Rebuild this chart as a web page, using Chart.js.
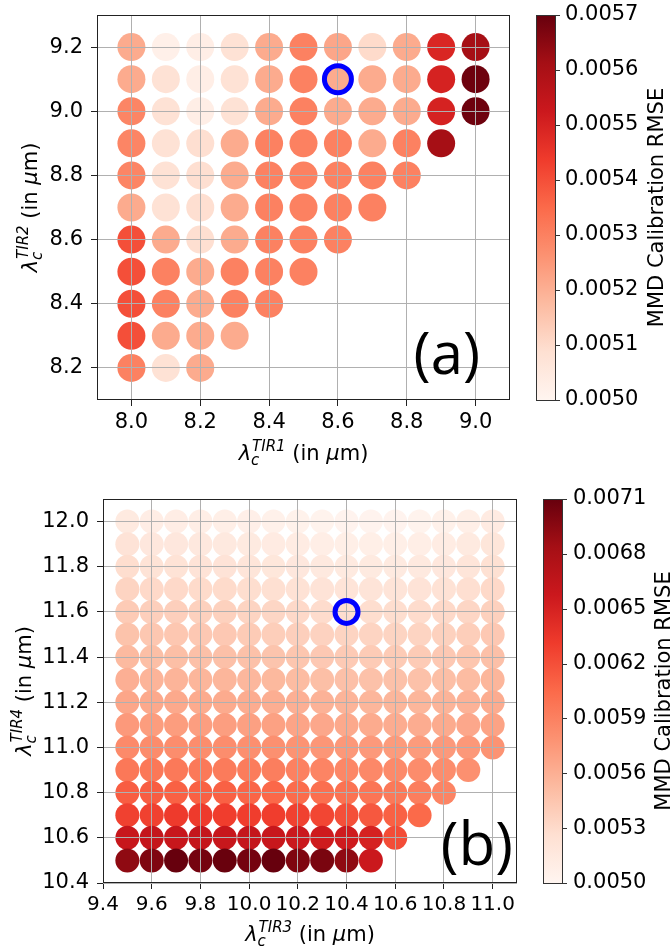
<!DOCTYPE html>
<html><head><meta charset="utf-8">
<script src="https://cdn.jsdelivr.net/npm/chart.js@4.4.0/dist/chart.umd.min.js"></script>
<style>
html,body{margin:0;padding:0;background:#fff;}
#wrap{position:relative;width:672px;height:952px;}
canvas{position:absolute;left:0;}
</style></head><body>
<div id="wrap">
<canvas id="chartA" width="672" height="476" style="top:0"></canvas>
<canvas id="chartB" width="672" height="476" style="top:476px"></canvas>
</div>
<script>
// ---------------- DATA: panel (a) ----------------
const aX = [8.0, 8.1, 8.2, 8.3, 8.4, 8.5, 8.6, 8.7, 8.8, 8.9, 9.0];
const aY = [9.2, 9.1, 9.0, 8.9, 8.8, 8.7, 8.6, 8.5, 8.4, 8.3, 8.2];
const aRmse = [
  [0.00521, 0.00502, 0.00503, 0.00508, 0.00521, 0.00530, 0.00522, 0.00510, 0.00521, 0.00549, 0.00561],
  [0.00521, 0.00508, 0.00503, 0.00508, 0.00521, 0.00530, 0.00521, 0.00521, 0.00521, 0.00550, 0.00569],
  [0.00529, 0.00508, 0.00503, 0.00508, 0.00521, 0.00530, 0.00521, 0.00521, 0.00521, 0.00550, 0.00569],
  [0.00529, 0.00508, 0.00509, 0.00521, 0.00530, 0.00530, 0.00530, 0.00521, 0.00530, 0.00561, null],
  [0.00529, 0.00508, 0.00509, 0.00521, 0.00530, 0.00530, 0.00530, 0.00530, 0.00530, null, null],
  [0.00521, 0.00508, 0.00509, 0.00521, 0.00530, 0.00530, 0.00530, 0.00530, null, null, null],
  [0.00540, 0.00521, 0.00509, 0.00521, 0.00530, 0.00530, 0.00530, null, null, null, null],
  [0.00540, 0.00530, 0.00521, 0.00530, 0.00530, 0.00530, null, null, null, null, null],
  [0.00540, 0.00530, 0.00521, 0.00530, 0.00530, null, null, null, null, null, null],
  [0.00540, 0.00521, 0.00521, 0.00521, null, null, null, null, null, null, null],
  [0.00530, 0.00508, 0.00521, null, null, null, null, null, null, null, null]
];
const aBest = [8.6, 9.1];
const aXTicks = [8.0, 8.2, 8.4, 8.6, 8.8, 9.0];
const aYTicks = [8.2, 8.4, 8.6, 8.8, 9.0, 9.2];
const aCbTicks = [0.0050, 0.0051, 0.0052, 0.0053, 0.0054, 0.0055, 0.0056, 0.0057];

// ---------------- DATA: panel (b) ----------------
const bX = [9.5, 9.6, 9.7, 9.8, 9.9, 10.0, 10.1, 10.2, 10.3, 10.4, 10.5, 10.6, 10.7, 10.8, 10.9, 11.0];
const bY = [12.0, 11.9, 11.8, 11.7, 11.6, 11.5, 11.4, 11.3, 11.2, 11.1, 11.0, 10.9, 10.8, 10.7, 10.6, 10.5];
const bRmse = [
  [0.00514, 0.00510, 0.00510, 0.00509, 0.00508, 0.00507, 0.00505, 0.00504, 0.00503, 0.00502, 0.00502, 0.00502, 0.00503, 0.00505, 0.00508, 0.00512],
  [0.00522, 0.00517, 0.00517, 0.00516, 0.00515, 0.00514, 0.00512, 0.00511, 0.00509, 0.00508, 0.00508, 0.00508, 0.00509, 0.00511, 0.00514, 0.00519],
  [0.00528, 0.00523, 0.00523, 0.00522, 0.00522, 0.00520, 0.00518, 0.00517, 0.00515, 0.00514, 0.00514, 0.00514, 0.00515, 0.00517, 0.00520, 0.00525],
  [0.00535, 0.00531, 0.00531, 0.00530, 0.00530, 0.00528, 0.00526, 0.00524, 0.00522, 0.00521, 0.00521, 0.00521, 0.00522, 0.00524, 0.00527, 0.00531],
  [0.00541, 0.00538, 0.00538, 0.00537, 0.00537, 0.00535, 0.00533, 0.00531, 0.00529, 0.00528, 0.00528, 0.00528, 0.00529, 0.00531, 0.00533, 0.00537],
  [0.00547, 0.00544, 0.00544, 0.00543, 0.00543, 0.00541, 0.00539, 0.00538, 0.00536, 0.00535, 0.00535, 0.00535, 0.00535, 0.00537, 0.00539, 0.00543],
  [0.00553, 0.00550, 0.00550, 0.00549, 0.00549, 0.00548, 0.00546, 0.00545, 0.00543, 0.00542, 0.00541, 0.00541, 0.00541, 0.00543, 0.00545, 0.00549],
  [0.00560, 0.00557, 0.00557, 0.00556, 0.00556, 0.00555, 0.00554, 0.00552, 0.00550, 0.00549, 0.00548, 0.00548, 0.00548, 0.00550, 0.00552, 0.00556],
  [0.00566, 0.00564, 0.00564, 0.00563, 0.00563, 0.00562, 0.00561, 0.00560, 0.00558, 0.00557, 0.00556, 0.00556, 0.00556, 0.00557, 0.00558, 0.00562],
  [0.00574, 0.00572, 0.00572, 0.00571, 0.00571, 0.00570, 0.00569, 0.00567, 0.00565, 0.00564, 0.00563, 0.00562, 0.00562, 0.00563, 0.00565, 0.00568],
  [0.00584, 0.00583, 0.00582, 0.00582, 0.00582, 0.00581, 0.00580, 0.00578, 0.00576, 0.00575, 0.00574, 0.00573, 0.00573, 0.00574, 0.00575, 0.00578],
  [0.00596, 0.00596, 0.00595, 0.00595, 0.00594, 0.00593, 0.00592, 0.00590, 0.00588, 0.00586, 0.00585, 0.00584, 0.00583, 0.00582, 0.00580],
  [0.00612, 0.00612, 0.00610, 0.00610, 0.00610, 0.00608, 0.00606, 0.00604, 0.00602, 0.00600, 0.00598, 0.00595, 0.00592, 0.00588],
  [0.00628, 0.00628, 0.00632, 0.00632, 0.00630, 0.00630, 0.00630, 0.00628, 0.00625, 0.00620, 0.00615, 0.00610, 0.00605],
  [0.00660, 0.00662, 0.00660, 0.00662, 0.00660, 0.00662, 0.00660, 0.00658, 0.00655, 0.00655, 0.00650, 0.00622],
  [0.00693, 0.00700, 0.00710, 0.00704, 0.00709, 0.00704, 0.00710, 0.00700, 0.00702, 0.00693, 0.00658]
];
const bBest = [10.4, 11.6];
const bXTicks = [9.4, 9.6, 9.8, 10.0, 10.2, 10.4, 10.6, 10.8, 11.0];
const bYTicks = [10.4, 10.6, 10.8, 11.0, 11.2, 11.4, 11.6, 11.8, 12.0];
const bCbTicks = [0.0050, 0.0053, 0.0056, 0.0059, 0.0062, 0.0065, 0.0068, 0.0071];

// ---------------- colormap (matplotlib "Reds") ----------------
const REDS = ['#fff5f0','#fee0d2','#fcbba1','#fc9272','#fb6a4a','#ef3b2c','#cb181d','#a50f15','#67000d'];
const REDS_RGB = REDS.map(h => [parseInt(h.slice(1,3),16), parseInt(h.slice(3,5),16), parseInt(h.slice(5,7),16)]);
function reds(t) {
  t = Math.max(0, Math.min(1, t));
  const p = t * 8, i = Math.min(7, Math.floor(p)), f = p - i;
  const a = REDS_RGB[i], b = REDS_RGB[i + 1];
  const c = [0,1,2].map(k => Math.round(a[k] + (b[k] - a[k]) * f));
  return 'rgb(' + c.join(',') + ')';
}

const FONT = '"DejaVu Sans", sans-serif';

function drawMathLabel(ctx, cx, baseY, rot, sup) {
  const big = '21px ' + FONT, bigI = 'italic 21px ' + FONT, smallI = 'italic 15px ' + FONT;
  ctx.save();
  ctx.translate(cx, baseY);
  ctx.rotate(rot);
  ctx.fillStyle = '#000';
  ctx.textBaseline = 'alphabetic';
  ctx.textAlign = 'left';
  ctx.font = bigI; const wL = ctx.measureText('\u03bb').width; const wMu = ctx.measureText('\u03bc').width;
  ctx.font = smallI; const wSup = ctx.measureText(sup).width; const wSub = ctx.measureText('c').width;
  ctx.font = big; const wA = ctx.measureText(' (in ').width; const wB = ctx.measureText('m)').width;
  const total = wL + Math.max(wSup, wSub) + 1 + wA + wMu + wB;
  let x = -total / 2;
  ctx.font = bigI; ctx.fillText('\u03bb', x, 0); x += wL;
  ctx.font = smallI; ctx.fillText(sup, x + 1, -9); ctx.fillText('c', x, 5);
  x += Math.max(wSup, wSub) + 1;
  ctx.font = big; ctx.fillText(' (in ', x, 0); x += wA;
  ctx.font = bigI; ctx.fillText('\u03bc', x, 0); x += wMu;
  ctx.font = big; ctx.fillText('m)', x, 0);
  ctx.restore();
}

function zeroPad(s) { s.paddingTop = 0; s.paddingBottom = 0; s.paddingLeft = 0; s.paddingRight = 0; }

function build(canvasId, P) {
  const pts = [];
  P.rows.forEach((row, r) => row.forEach((v, c) => {
    if (v !== null && v !== undefined) pts.push({ x: P.xs[c], y: P.ys[r], v: v });
  }));
  const decor = {
    id: 'decor',
    afterDraw(chart) {
      const ctx = chart.ctx, ca = chart.chartArea;
      ctx.save();
      // best-point ring
      const rx = chart.scales.x.getPixelForValue(P.best[0]);
      const ry = chart.scales.y.getPixelForValue(P.best[1]);
      ctx.beginPath();
      ctx.arc(rx, ry, P.ringR, 0, Math.PI * 2);
      ctx.strokeStyle = '#0000ff'; ctx.lineWidth = 5; ctx.stroke();
      // frame
      ctx.strokeStyle = '#222'; ctx.lineWidth = 1;
      ctx.strokeRect(Math.round(ca.left) + 0.5, Math.round(ca.top) + 0.5,
                     Math.round(ca.right - ca.left) - 1, Math.round(ca.bottom - ca.top) - 1);
      // colorbar
      const sc = chart.scales.cb;
      const x0 = sc.left + 26, w = 19;
      const yT = sc.getPixelForValue(P.vmax), yB = sc.getPixelForValue(P.vmin);
      const g = ctx.createLinearGradient(0, yB, 0, yT);
      REDS.forEach((c, i) => g.addColorStop(i / 8, c));
      ctx.fillStyle = g;
      ctx.fillRect(x0, yT, w, yB - yT);
      ctx.strokeStyle = '#333';
      ctx.strokeRect(Math.round(x0) + 0.5, Math.round(yT) + 0.5, w, Math.round(yB - yT));
      ctx.beginPath();
      P.cbTicks.forEach(v => {
        const y = Math.round(sc.getPixelForValue(v)) + 0.5;
        ctx.moveTo(x0 + w, y); ctx.lineTo(x0 + w + 5, y);
      });
      ctx.stroke();
      // colorbar title
      ctx.save();
      ctx.translate(sc.left + P.cbTitleX, (yT + yB) / 2);
      ctx.rotate(-Math.PI / 2);
      ctx.font = '21px ' + FONT; ctx.fillStyle = '#000';
      ctx.textAlign = 'center'; ctx.textBaseline = 'alphabetic';
      ctx.fillText('MMD Calibration RMSE', 0, 0);
      ctx.restore();
      // axis labels
      drawMathLabel(ctx, (ca.left + ca.right) / 2, P.xLabelY, 0, P.xSup);
      drawMathLabel(ctx, P.yLabelX, (ca.top + ca.bottom) / 2, -Math.PI / 2, P.ySup);
      // panel letter
      ctx.font = P.letterSize + 'px "Open Sans", sans-serif';
      ctx.fillStyle = '#000'; ctx.textAlign = 'center'; ctx.textBaseline = 'alphabetic';
      ctx.fillText(P.letter, ca.left + P.letterFx * (ca.right - ca.left), ca.top + P.letterFy * (ca.bottom - ca.top));
      ctx.restore();
    }
  };
  const tickFont = { family: FONT, size: 21 };
  return new Chart(document.getElementById(canvasId), {
    type: 'scatter',
    data: {
      datasets: [{
        data: pts,
        pointRadius: P.r, pointHoverRadius: P.r, pointBorderWidth: 0, borderWidth: 0,
        pointBackgroundColor: ctx => ctx.raw ? reds((ctx.raw.v - P.vmin) / (P.vmax - P.vmin)) : '#fff'
      }]
    },
    options: {
      responsive: false, animation: false, devicePixelRatio: 1, events: [],
      layout: { padding: { top: P.padTop, left: 0, right: 0, bottom: 0 } },
      plugins: { legend: { display: false }, tooltip: { enabled: false } },
      scales: {
        x: {
          type: 'linear', min: P.xMin, max: P.xMax,
          afterBuildTicks: s => { s.ticks = P.xTicks.map(v => ({ value: v })); },
          afterFit: s => { s.height = P.xAxisH; zeroPad(s); },
          ticks: { font: { family: FONT, size: P.xTickSize }, color: '#000', padding: 4, maxRotation: 0, autoSkip: false,
                   callback: v => Number(v).toFixed(1) },
          grid: { z: 1, color: '#b0b0b0', lineWidth: 1, tickLength: 6, tickColor: '#222', tickWidth: 1 },
          border: { display: false }
        },
        y: {
          type: 'linear', min: P.yMin, max: P.yMax,
          afterBuildTicks: s => { s.ticks = P.yTicks.map(v => ({ value: v })); },
          afterFit: s => { s.width = P.yAxisW; zeroPad(s); },
          ticks: { font: tickFont, color: '#000', padding: 8, autoSkip: false,
                   callback: v => Number(v).toFixed(1) },
          grid: { z: 1, color: '#b0b0b0', lineWidth: 1, tickLength: 6, tickColor: '#222', tickWidth: 1 },
          border: { display: false }
        },
        cb: {
          type: 'linear', axis: 'y', position: 'right', min: P.vmin, max: P.vmax,
          afterBuildTicks: s => { s.ticks = P.cbTicks.map(v => ({ value: v })); },
          afterFit: s => { s.width = P.cbW; zeroPad(s); },
          ticks: { font: tickFont, color: '#000', padding: P.cbPad, autoSkip: false,
                   callback: v => Number(v).toFixed(4) },
          grid: { display: false, drawTicks: false },
          border: { display: false }
        }
      }
    },
    plugins: [decor]
  });
}

build('chartA', {
  xs: aX, ys: aY, rows: aRmse, best: aBest, xTicks: aXTicks, yTicks: aYTicks, cbTicks: aCbTicks,
  xMin: 7.9, xMax: 9.1, yMin: 8.1, yMax: 9.3, vmin: 0.0050, vmax: 0.0057,
  r: 14, ringR: 13.5, padTop: 15, yAxisW: 97, xAxisH: 76, cbW: 162, cbPad: 55, cbTitleX: 153,
  xTickSize: 21, xLabelY: 460, yLabelX: 37, xSup: 'TIR1', ySup: 'TIR2',
  letter: '(a)', letterSize: 58, letterFx: 0.847, letterFy: 0.932
});
build('chartB', {
  xs: bX, ys: bY, rows: bRmse, best: bBest, xTicks: bXTicks, yTicks: bYTicks, cbTicks: bCbTicks,
  xMin: 9.4, xMax: 11.1, yMin: 10.4, yMax: 12.1, vmin: 0.0050, vmax: 0.0071,
  r: 12, ringR: 11.5, padTop: 23, yAxisW: 103, xAxisH: 69, cbW: 155, cbPad: 56, cbTitleX: 153,
  xTickSize: 20, xLabelY: 465, yLabelX: 31, xSup: 'TIR3', ySup: 'TIR4',
  letter: '(b)', letterSize: 60, letterFx: 0.903, letterFy: 0.952
});
</script>
</body></html>
